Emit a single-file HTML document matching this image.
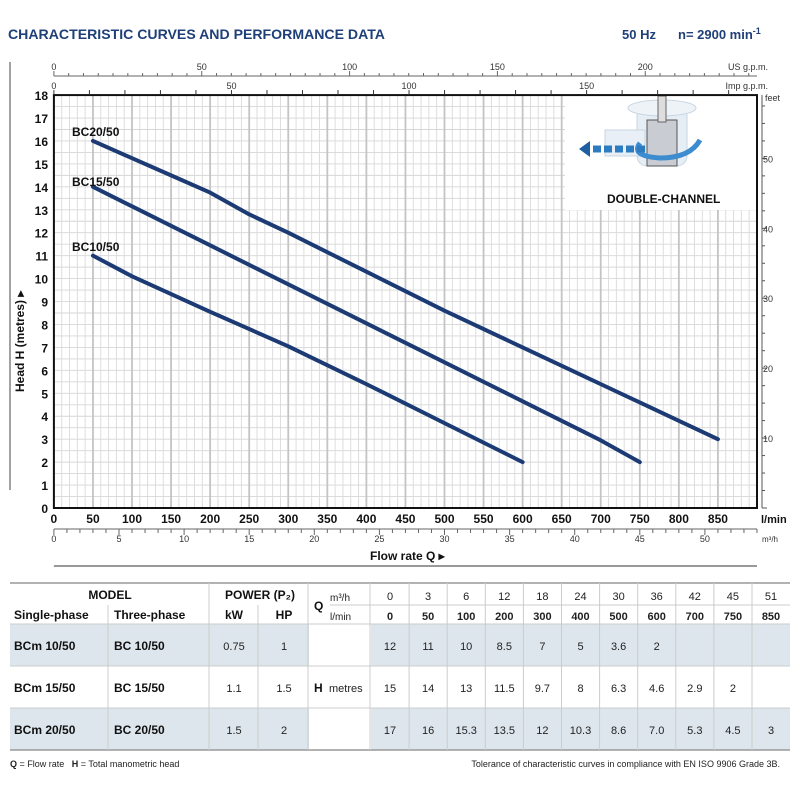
<!DOCTYPE html>
<html><head><meta charset="utf-8"><style>
body{margin:0;background:#fff;width:800px;height:800px;overflow:hidden;font-family:"Liberation Sans",sans-serif}
svg{position:absolute;left:0;top:0}
</style></head><body>
<svg id="s" width="800" height="800" xmlns="http://www.w3.org/2000/svg" font-family="Liberation Sans, sans-serif"></svg>
<script>
const s=document.getElementById('s');let h='';
const X=q=>53.9+q*39.06/50, Y=m=>508-m*22.94;
const L=(x1,y1,x2,y2,c,w)=>h+=`<line x1="${x1}" y1="${y1}" x2="${x2}" y2="${y2}" stroke="${c}" stroke-width="${w}"/>`;
const T=(x,y,t,o)=>h+=`<text x="${x}" y="${y}" ${o||''}>${t}</text>`;
// title
T(8,39,'CHARACTERISTIC CURVES AND PERFORMANCE DATA','font-size="14" font-weight="bold" fill="#1f3f78" textLength="377" lengthAdjust="spacingAndGlyphs"');
T(622,39,'50 Hz','font-size="13" font-weight="bold" fill="#1f3f78"');
T(678,39,'n= 2900 min<tspan font-size="9" dy="-5">-1</tspan>','font-size="13" font-weight="bold" fill="#1f3f78"');
L(10,62,10,490,'#444',1);
// grid
const x0=X(0),x1=757,y0=Y(18),y1=Y(0);
for(let m=0;m<=18;m+=0.5){L(x0,Y(m),x1,Y(m),'#d6d6d6',0.9)}
for(let q=0;q<=900;q+=10){L(X(q),y0,X(q),y1,q%50==0?'#c4c4c4':'#dadada',q%50==0?1.8:0.9)}
// inset
h+=`<rect x="565" y="96" width="191" height="114" fill="#fff"/>`;
h+=`<rect x="637" y="106" width="50" height="60" rx="10" fill="#e6eef5" stroke="#c8d6e2"/>`;
h+=`<ellipse cx="662" cy="108" rx="34" ry="8" fill="#eef3f8" stroke="#c8d6e2"/>`;
h+=`<rect x="605" y="130" width="40" height="26" fill="#e8eff6" stroke="#c8d6e2"/>`;
h+=`<rect x="647" y="120" width="30" height="46" fill="#c9ccd2" stroke="#555"/>`;
h+=`<rect x="658" y="96" width="8" height="26" fill="#ddd" stroke="#666"/>`;
h+=`<path d="M700 140 Q690 158 660 158 Q630 156 640 143" fill="none" stroke="#3d8cd0" stroke-width="5"/>`;
h+=`<line x1="645" y1="149" x2="590" y2="149" stroke="#2d7cc2" stroke-width="7" stroke-dasharray="8,3"/>`;
h+=`<polygon points="579,149 590,141 590,157" fill="#1d5fa0"/>`;
T(607,203,'DOUBLE-CHANNEL','font-size="12" font-weight="bold" fill="#111"');
// frame
h+=`<rect x="${x0}" y="${y0}" width="${x1-x0}" height="${y1-y0}" fill="none" stroke="#111" stroke-width="2"/>`;
// top axes
L(x0,76,x1,76,'#666',1);
for(let g=0;g<=237;g+=5){const x=X(g*3.785);if(x<=x1)L(x,g%50==0?71:73,x,76,'#666',1)}
[0,50,100,150,200].forEach(g=>T(X(g*3.785),70,g,'font-size="9" fill="#333" text-anchor="middle"'));
T(768,70,'US g.p.m.','font-size="9" fill="#333" text-anchor="end"');
for(let g=0;g<=200;g+=10){const x=X(g*4.546);if(x<=x1)L(x,y0,x,y0-5,'#333',1)}
[0,50,100,150,200].forEach(g=>{const x=X(g*4.546);if(x<x1)T(x,89,g,'font-size="9" fill="#333" text-anchor="middle"')});
T(768,89,'Imp g.p.m.','font-size="9" fill="#333" text-anchor="end"');
// left axis
for(let m=0;m<=18;m++)T(48,Y(m)+5,m,'font-size="12" font-weight="bold" text-anchor="end" fill="#111"');
T(0,0,'Head H  (metres)  ▸','font-size="12" font-weight="bold" fill="#111" transform="translate(24,392) rotate(-90)"');
// right feet axis
L(x1+5,y0,x1+5,y1,'#555',1);
for(let f=0;f<=59;f+=2.5){const y=508-f*0.3048*22.94;L(x1+5,y,x1+(f%10==0?10:8),y,'#555',1)}
[10,20,30,40,50].forEach(f=>T(763,508-f*0.3048*22.94+4,f,'font-size="9" fill="#333"'));
T(765,101,'feet','font-size="9" fill="#333"');
// bottom
for(let q=0;q<=850;q+=50)T(X(q),523,q,'font-size="12" font-weight="bold" text-anchor="middle" fill="#111"');
T(761,523,'l/min','font-size="11" font-weight="bold" fill="#111"');
L(x0,529,x1,529,'#666',1);
for(let m=0;m<=54;m++){const x=X(m*50/3);if(x<=x1)L(x,529,x,m%5==0?535:533,'#666',1)}
for(let m=0;m<=50;m+=5)T(X(m*50/3),542,m,'font-size="9" fill="#333" text-anchor="middle"');
T(762,542,'m³/h','font-size="8" fill="#333"');
T(370,560,'Flow rate  Q  ▸','font-size="12" font-weight="bold" fill="#111"');
L(x0,566,x1,566,'#999',2);
// curves
const C=(pts,lab,lx,ly)=>{h+=`<polyline points="${pts.map(p=>X(p[0])+','+Y(p[1])).join(' ')}" fill="none" stroke="#1c3a74" stroke-width="4" stroke-linecap="round" stroke-linejoin="round"/>`;T(lx,ly,lab,'font-size="12" font-weight="bold" fill="#111"')};
C([[50,16],[100,15.25],[150,14.5],[200,13.75],[250,12.8],[300,12],[400,10.3],[500,8.6],[600,7],[700,5.4],[750,4.6],[850,3]],'BC20/50',72,136);
C([[50,14],[100,13.15],[200,11.45],[300,9.75],[400,8.05],[500,6.35],[600,4.65],[700,2.95],[750,2]],'BC15/50',72,186);
C([[50,11],[100,10.1],[200,8.55],[300,7.05],[400,5.4],[500,3.7],[600,2]],'BC10/50',72,251);
// table
h+=`<rect x="10" y="624" width="780" height="42" fill="#dde6ec"/><rect x="10" y="708" width="780" height="42" fill="#dde6ec"/>`;
h+=`<rect x="309" y="624" width="62" height="126" fill="#fff"/>`;
L(10,583,790,583,'#999',1.5);L(10,750,790,750,'#999',1.5);
L(10,624,790,624,'#ccc',1);L(10,666,790,666,'#ccc',1);L(10,708,790,708,'#ccc',1);
L(330,605,790,605,'#ccc',1);
[108,209,258,308,370].forEach(x=>L(x,x==108||x==258?605:583,x,750,'#ccc',1));
for(let i=1;i<11;i++){const x=371+i*38.1;L(x,583,x,750,'#ccc',1)}
const tb='font-size="12" font-weight="bold" fill="#111"',tn='font-size="11" fill="#222" text-anchor="middle"';
T(110,599,'MODEL',tb+' text-anchor="middle"');T(260,599,'POWER (P₂)',tb+' text-anchor="middle"');
T(14,619,'Single-phase',tb);T(114,619,'Three-phase',tb);T(234,619,'kW',tb+' text-anchor="middle"');T(284,619,'HP',tb+' text-anchor="middle"');
T(314,610,'Q',tb);T(330,601,'m³/h','font-size="10" fill="#222"');T(330,620,'l/min','font-size="10" fill="#222"');
const m3=[0,3,6,12,18,24,30,36,42,45,51],lm=[0,50,100,200,300,400,500,600,700,750,850];
m3.forEach((v,i)=>{const c=371+19+i*38.1;T(c,600,v,tn);T(c,620,lm[i],tn.replace('fill','font-weight="bold" fill'))});
const rows=[['BCm 10/50','BC 10/50','0.75','1',[12,11,10,8.5,7,5,3.6,2]],['BCm 15/50','BC 15/50','1.1','1.5',[15,14,13,11.5,9.7,8,6.3,4.6,2.9,2]],['BCm 20/50','BC 20/50','1.5','2',[17,16,15.3,13.5,12,10.3,8.6,'7.0',5.3,4.5,3]]];
rows.forEach((r,j)=>{const y=650+j*42;T(14,y,r[0],tb);T(114,y,r[1],tb);T(234,y,r[2],tn);T(284,y,r[3],tn);r[4].forEach((v,i)=>T(371+19+i*38.1,y,v,tn))});
T(314,692,'H',tb);T(329,692,'metres','font-size="11" fill="#222"');
T(10,767,'<tspan font-weight="bold">Q</tspan> = Flow rate   <tspan font-weight="bold">H</tspan> = Total manometric head','font-size="9" fill="#222" xml:space="preserve"');
T(780,767,'Tolerance of characteristic curves in compliance with EN ISO 9906 Grade 3B.','font-size="9" fill="#222" text-anchor="end"');
s.innerHTML=h;
</script>
</body></html>
